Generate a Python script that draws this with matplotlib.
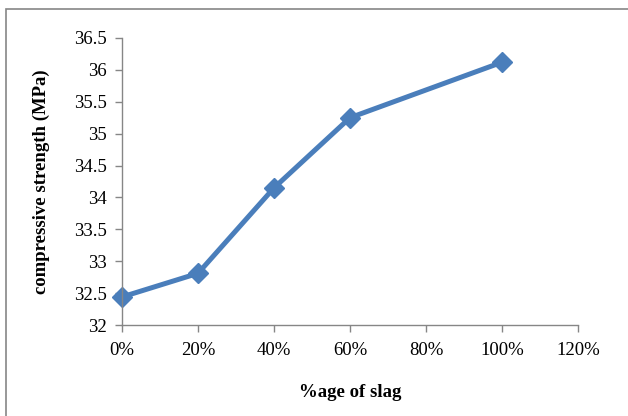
import matplotlib.pyplot as plt
from matplotlib.patches import Rectangle
from matplotlib.ticker import FuncFormatter, MultipleLocator

# slag replacement level (%) and measured compressive strength (MPa)
slag_pct = [0, 20, 40, 60, 100]
strength = [32.44, 32.81, 34.15, 35.25, 36.12]

plt.rcParams['font.family'] = ['Liberation Serif', 'DejaVu Serif']

fig = plt.figure(figsize=(6.28, 4.16), dpi=100)
# chart frame, running off the right and bottom edges
fig.patches.append(Rectangle((6 / 628, -0.05), 1.0, 1 - 9 / 416 + 0.05,
                             transform=fig.transFigure, fill=False,
                             edgecolor='#868686', linewidth=1.2))

ax = fig.add_axes([122 / 628, 1 - 325 / 416, 456 / 628, 287 / 416])
ax.plot(slag_pct, strength, color='#4A7EBB', linewidth=3.6,
        marker='D', markersize=10, markeredgecolor='#4A7EBB', clip_on=False)

ax.set_xlim(0, 120)
ax.set_ylim(32, 36.5)
ax.xaxis.set_major_locator(MultipleLocator(20))
ax.yaxis.set_major_locator(MultipleLocator(0.5))
ax.xaxis.set_major_formatter(FuncFormatter(lambda v, p: f'{v:.0f}%'))
ax.yaxis.set_major_formatter(FuncFormatter(lambda v, p: f'{v:g}'))

for side in ('top', 'right'):
    ax.spines[side].set_visible(False)
for side in ('left', 'bottom'):
    ax.spines[side].set_color('#868686')
    ax.spines[side].set_linewidth(1.0)
ax.tick_params(axis='both', direction='out', length=5, width=1.0,
               color='#868686', labelsize=13.5, labelcolor='black')
ax.tick_params(axis='x', pad=7)
ax.tick_params(axis='y', pad=6)

ax.set_xlabel('%age of slag', fontsize=13.5, fontweight='bold', labelpad=18)
ax.set_ylabel('compressive strength (MPa)', fontsize=13.5, fontweight='bold', labelpad=17)

fig.savefig('out.png', dpi=100)
